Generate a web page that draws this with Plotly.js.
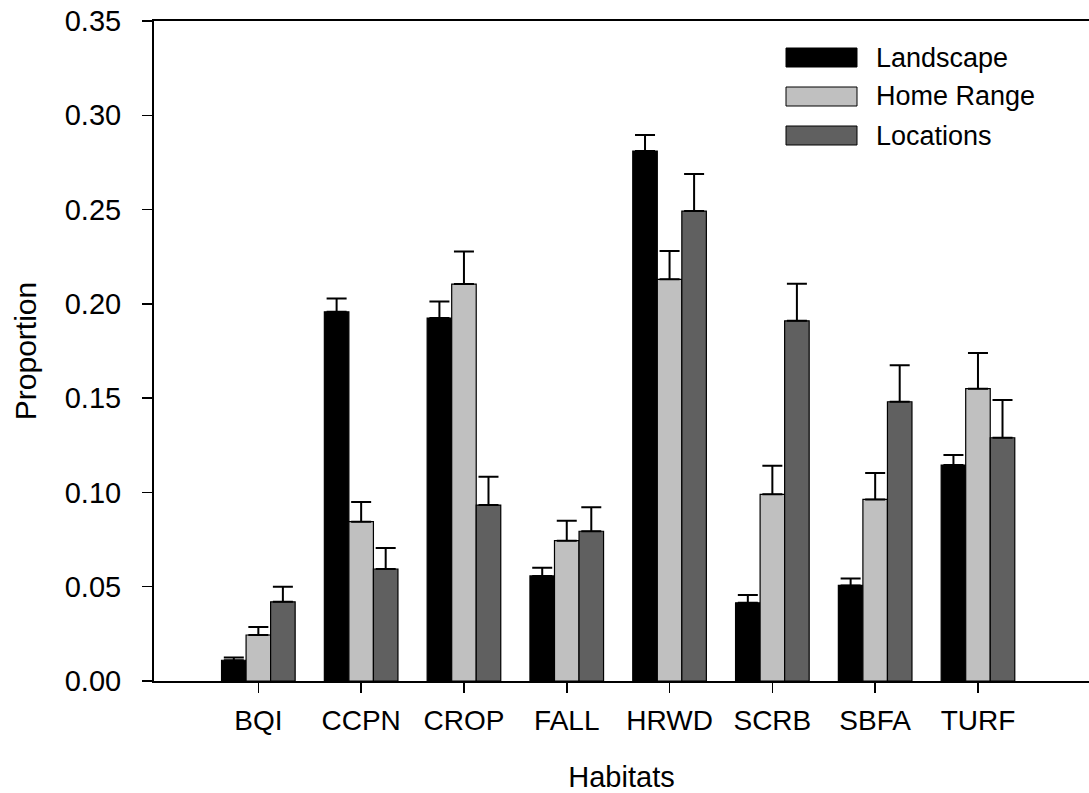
<!DOCTYPE html>
<html>
<head>
<meta charset="utf-8">
<script src="https://cdn.plot.ly/plotly-3.0.1.min.js"></script>
<style>html,body{margin:0;padding:0;background:#fff;}#chart{width:1089px;height:793px;}</style>
</head>
<body>
<div id="chart"></div>
<script>
var habitats = ["BQI", "CCPN", "CROP", "FALL", "HRWD", "SCRB", "SBFA", "TURF"];
var seriesNames = ["Landscape", "Home Range", "Locations"];
var landscape = [0.0110, 0.1958, 0.1925, 0.0557, 0.2810, 0.0415, 0.0507, 0.1145];
var landscapeErr = [0.0014, 0.0071, 0.0087, 0.0044, 0.0086, 0.0041, 0.0036, 0.0053];
var homeRange = [0.0244, 0.0845, 0.2105, 0.0744, 0.2130, 0.0990, 0.0963, 0.1550];
var homeRangeErr = [0.0042, 0.0104, 0.0172, 0.0106, 0.0150, 0.0152, 0.0140, 0.0189];
var locations = [0.0420, 0.0594, 0.0933, 0.0794, 0.2492, 0.1910, 0.1481, 0.1290];
var locationsErr = [0.0080, 0.0111, 0.0150, 0.0127, 0.0197, 0.0197, 0.0193, 0.0200];
var yTicks = [0, 0.05, 0.10, 0.15, 0.20, 0.25, 0.30, 0.35];

var colors = ["#000000", "#c0c0c0", "#606060"];
var vals = [landscape, homeRange, locations];
var errs = [landscapeErr, homeRangeErr, locationsErr];
var FONT = "Liberation Sans, Arial, sans-serif";

var traces = vals.map(function (v, i) {
  return {
    type: "bar",
    name: seriesNames[i],
    x: habitats,
    y: v,
    marker: {color: colors[i], line: {color: "#000000", width: 1.2}},
    error_y: {type: "data", symmetric: false, array: errs[i],
              arrayminus: errs[i].map(function () { return 0; }),
              color: "#000000", thickness: 2, width: 10},
    showlegend: false
  };
});

// Legend drawn as shapes + annotations (paper coords)
var L = 154, T = 21, W = 935, H = 660;
function px(x) { return (x - L) / W; }
function py(y) { return (T + H - y) / H; }
var legendY = [57.5, 96.5, 135.5];
var shapes = [], annotations = [];
seriesNames.forEach(function (n, i) {
  shapes.push({type: "rect", xref: "paper", yref: "paper",
    x0: px(786), x1: px(857), y0: py(legendY[i] - 9.5), y1: py(legendY[i] + 9.5),
    fillcolor: colors[i], line: {color: "#000000", width: 1}});
  annotations.push({xref: "paper", yref: "paper", x: px(874), y: py(legendY[i]),
    xanchor: "left", yanchor: "middle", text: n, showarrow: false,
    font: {family: FONT, size: 27, color: "#000"}});
});

var layout = {
  width: 1089, height: 793,
  margin: {l: 154, r: 0, t: 21, b: 112, pad: 0},
  paper_bgcolor: "#fff", plot_bgcolor: "#fff",
  font: {family: FONT, color: "#000"},
  barmode: "group", bargap: 0.284, bargroupgap: 0,
  showlegend: false,
  xaxis: {
    type: "category", range: [-1.015, 8.08],
    showline: true, linecolor: "#000", linewidth: 2, mirror: true,
    ticks: "outside", ticklen: 10, tickwidth: 1.5, tickcolor: "#000",
    showgrid: false, zeroline: false,
    tickfont: {family: FONT, size: 28}, ticklabelstandoff: 3,
    title: {text: "Habitats", font: {family: FONT, size: 29}, standoff: 36}
  },
  yaxis: {
    range: [0, 0.35], tickvals: yTicks, tickformat: ".2f",
    showline: true, linecolor: "#000", linewidth: 2,
    ticks: "outside", ticklen: 10, tickwidth: 1.5, tickcolor: "#000",
    showgrid: false, zeroline: false,
    tickfont: {family: FONT, size: 29}, ticklabelstandoff: 15,
    title: {text: "Proportion", font: {family: FONT, size: 30}, standoff: 19}
  },
  shapes: shapes,
  annotations: annotations
};

Plotly.newPlot("chart", traces, layout, {displayModeBar: false, staticPlot: true});
</script>
</body>
</html>
